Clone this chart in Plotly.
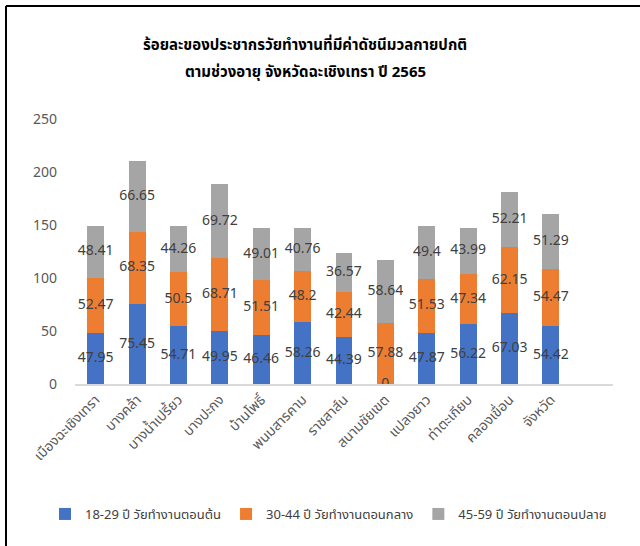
import plotly.graph_objects as go

categories = ['เมืองฉะเชิงเทรา', 'บางคล้า', 'บางน้ำเปรี้ยว', 'บางปะกง', 'บ้านโพธิ์', 'พนมสารคาม',
              'ราชสาส์น', 'สนามชัยเขต', 'แปลงยาว', 'ท่าตะเกียบ', 'คลองเขื่อน', 'จังหวัด']
age_18_29 = [47.95, 75.45, 54.71, 49.95, 46.46, 58.26, 44.39, 0, 47.87, 56.22, 67.03, 54.42]
age_30_44 = [52.47, 68.35, 50.5, 68.71, 51.51, 48.2, 42.44, 57.88, 51.53, 47.34, 62.15, 54.47]
age_45_59 = [48.41, 66.65, 44.26, 69.72, 49.01, 40.76, 36.57, 58.64, 49.4, 43.99, 52.21, 51.29]
series_names = ['18-29 ปี วัยทำงานตอนต้น', '30-44 ปี วัยทำงานตอนกลาง', '45-59 ปี วัยทำงานตอนปลาย']
colors = ['#4472C4', '#ED7D31', '#A5A5A5']
y_ticks = [0, 50, 100, 150, 200, 250]
title_lines = ['ร้อยละของประชากรวัยทำงานที่มีค่าดัชนีมวลกายปกติ', 'ตามช่วงอายุ จังหวัดฉะเชิงเทรา ปี 2565']

FONT = 'Tahoma, "Noto Sans Thai", "Noto Sans", sans-serif'

fig = go.Figure()
series = [age_18_29, age_30_44, age_45_59]
base = [0] * len(categories)
for name, vals, col in zip(series_names, series, colors):
    fig.add_trace(go.Bar(x=categories, y=vals, name=name, marker=dict(color=col, line=dict(width=0)),
                         hoverinfo='skip'))
    mids = [b + v / 2 for b, v in zip(base, vals)]
    fig.add_trace(go.Scatter(x=categories, y=mids, mode='text', text=[f'{v:g}' for v in vals],
                             textposition='middle center', showlegend=False, hoverinfo='skip',
                             textfont=dict(size=14, color='#404040', family=FONT)))
    base = [b + v for b, v in zip(base, vals)]

W, H = 640, 546
L, R, T, B = 75, 27, 119, 162
pw, ph = W - L - R, H - T - B

def px_x(x):
    return (x - L) / pw

def px_y(y):
    return (H - B - y) / ph

fig.add_shape(type='line', xref='paper', yref='paper', x0=px_x(6), x1=px_x(640), y0=px_y(6), y1=px_y(6),
              line=dict(color='black', width=2))
fig.add_shape(type='line', xref='paper', yref='paper', x0=px_x(6), x1=px_x(6), y0=px_y(6), y1=px_y(546),
              line=dict(color='black', width=2))

for line, ypx in zip(title_lines, [45, 72]):
    fig.add_annotation(text=f'<b>{line}</b>', xref='paper', yref='paper', x=px_x(305), y=px_y(ypx),
                       xanchor='center', yanchor='middle', showarrow=False,
                       font=dict(size=15, color='black', family=FONT))

fig.update_layout(
    width=W, height=H,
    margin=dict(l=L, r=R, t=T, b=B),
    barmode='stack', bargap=0.59,
    plot_bgcolor='white', paper_bgcolor='white',
    font=dict(family=FONT, color='#595959', size=14),
    legend=dict(orientation='h', x=px_x(45), xref='paper', xanchor='left', y=px_y(514), yref='paper',
                yanchor='middle', font=dict(size=13, color='#404040'), traceorder='normal',
                itemwidth=30, tracegroupgap=0),
    showlegend=True,
)
fig.update_xaxes(type='category', range=[-0.5, 12.5], tickangle=-45, showgrid=False, showline=True,
                 linecolor='#D9D9D9', linewidth=2, ticks='', tickfont=dict(size=14, color='#595959'))
fig.update_yaxes(range=[0, 250], tickvals=y_ticks, showgrid=False, zeroline=False, showline=False,
                 ticks='', ticklabelstandoff=17, tickfont=dict(size=14, color='#595959'))

fig.write_html('out.html', config={'displayModeBar': False},
               post_script="document.body.style.margin='0';")
